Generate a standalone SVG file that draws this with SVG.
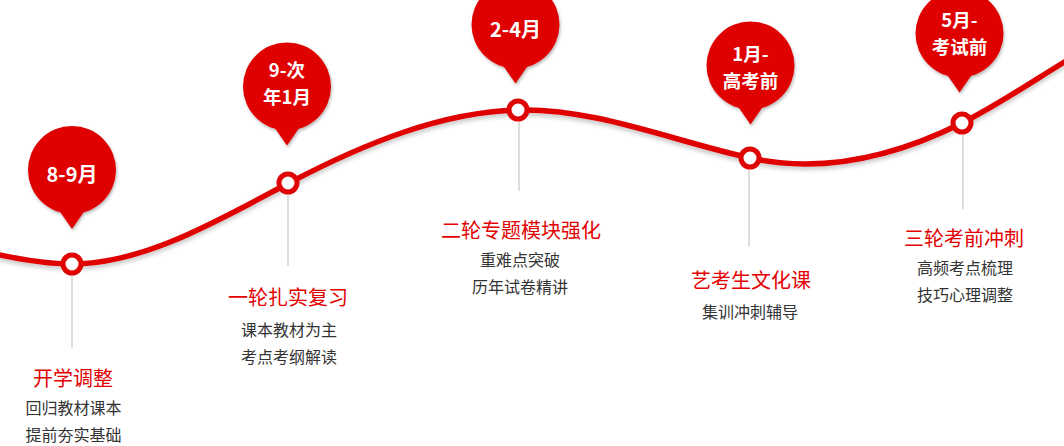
<svg xmlns="http://www.w3.org/2000/svg" width="1064" height="446" viewBox="0 0 1064 446">
<defs>
<filter id="sh" x="-20%" y="-20%" width="140%" height="150%">
<feDropShadow dx="1" dy="2" stdDeviation="1.8" flood-color="#000" flood-opacity="0.28"/>
</filter>
<filter id="lsh" x="-5%" y="-50%" width="110%" height="200%">
<feDropShadow dx="0" dy="3" stdDeviation="2" flood-color="#000" flood-opacity="0.22"/>
</filter>
<g id="bub">
<circle cx="0" cy="0" r="44"/>
<path d="M-16,36 L0,59 L16,36 Z"/>
</g>
</defs>
<style>
.bub{fill:#df0505;filter:url(#sh)}
.bt{font-family:"Noto Sans CJK SC","Noto Sans",sans-serif;font-weight:bold;font-size:20px;fill:#fff;text-anchor:middle}
.b2{font-size:18.5px}
.dot{fill:#fff;stroke:#df0505;stroke-width:5}
.stem{stroke:#bbbbbb;stroke-width:1}
.tt{font-family:"Noto Sans CJK SC","Noto Sans",sans-serif;font-size:20px;fill:#e40000;text-anchor:middle}
.st{font-family:"Noto Sans CJK SC","Noto Sans",sans-serif;font-size:16px;fill:#333;text-anchor:middle}
.curve{fill:none;stroke:#df0505;stroke-width:5.5;filter:url(#lsh)}
</style>
<rect width="1064" height="446" fill="#fff"/>
<g id="connectors">
<path class="curve" d="M-2,254.6 C24,260 48,264 72,264 C144,264 217,221 289,183 C365,143 442,112 518,110 C595,108 673,141 750,158 C821,173.6 891,158.5 962,123 C996,106 1030,83 1066,61"/>
</g>
<g id="n1">
<line class="stem" x1="72" y1="276" x2="72" y2="348"/>
<circle class="dot" cx="72" cy="264" r="9"/>
<use href="#bub" class="bub" x="72" y="170"/>
<text class="bt" x="72" y="182">8-9月</text>
<text class="tt" x="73" y="385.5">开学调整</text>
<text class="st" x="73.5" y="414">回归教材课本</text>
<text class="st" x="73.5" y="441">提前夯实基础</text>
</g>
<g id="n2">
<line class="stem" x1="288" y1="195" x2="288" y2="266"/>
<circle class="dot" cx="288" cy="183" r="9"/>
<use href="#bub" class="bub" x="287" y="86.5"/>
<text class="bt b2" x="287" y="77">9-次</text>
<text class="bt b2" x="287" y="104">年1月</text>
<text class="tt" x="288" y="304.5">一轮扎实复习</text>
<text class="st" x="289" y="336">课本教材为主</text>
<text class="st" x="289" y="363">考点考纲解读</text>
</g>
<g id="n3">
<line class="stem" x1="519" y1="122" x2="519" y2="191"/>
<circle class="dot" cx="518" cy="110" r="9"/>
<use href="#bub" class="bub" x="515.5" y="24.5"/>
<text class="bt" x="515.5" y="37">2-4月</text>
<text class="tt" x="521" y="237.5">二轮专题模块强化</text>
<text class="st" x="520" y="266">重难点突破</text>
<text class="st" x="520" y="293">历年试卷精讲</text>
</g>
<g id="n4">
<line class="stem" x1="749" y1="170" x2="749" y2="247"/>
<circle class="dot" cx="750" cy="158" r="9"/>
<use href="#bub" class="bub" x="750.5" y="65.5"/>
<text class="bt b2" x="750.5" y="61">1月-</text>
<text class="bt b2" x="750.5" y="88">高考前</text>
<text class="tt" x="751" y="287.5">艺考生文化课</text>
<text class="st" x="750" y="318">集训冲刺辅导</text>
</g>
<g id="n5">
<line class="stem" x1="963" y1="135" x2="963" y2="209"/>
<circle class="dot" cx="962" cy="123" r="9"/>
<use href="#bub" class="bub" x="959.5" y="33.5"/>
<text class="bt b2" x="959.5" y="26.5">5月-</text>
<text class="bt b2" x="959.5" y="53.5">考试前</text>
<text class="tt" x="964" y="245.5">三轮考前冲刺</text>
<text class="st" x="965" y="274">高频考点梳理</text>
<text class="st" x="965" y="301">技巧心理调整</text>
</g>
</svg>
